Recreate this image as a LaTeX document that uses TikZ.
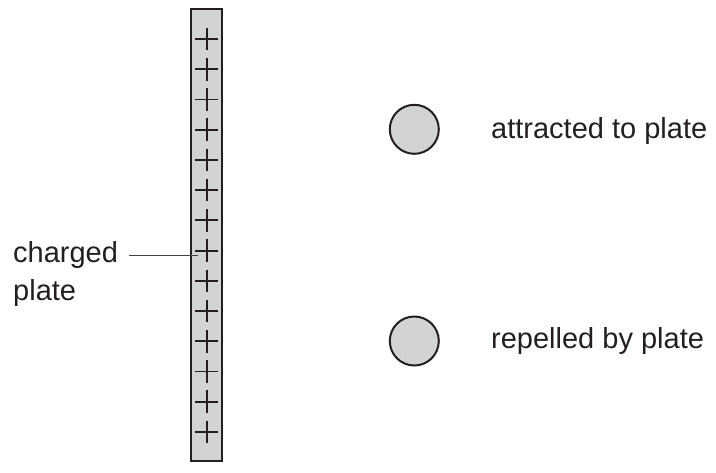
\documentclass[tikz,border=0pt]{standalone}
\usepackage{fontspec}
\setmainfont{Liberation Sans}
\definecolor{ink}{HTML}{231F20}
\definecolor{fillgray}{HTML}{D1D3D4}
\begin{document}
\begin{tikzpicture}[x=1pt,y=-1pt,
  lbl/.style={anchor=base west,inner sep=0pt,text=ink,font=\fontsize{29}{35}\selectfont},
  ball/.style={circle,draw=ink,line width=2pt,fill=fillgray,minimum size=49pt,inner sep=0pt},
  platestyle/.style={rectangle,draw=ink,line width=2pt,fill=fillgray,inner sep=0pt,minimum width=31pt,minimum height=452pt},
  plussign/.style={draw=ink,line width=1.9pt},
  leader/.style={draw=ink!85,line width=1pt}]
\useasboundingbox (0,0) rectangle (716,472);
\node[platestyle] (platebox) at (206.8,235.3) {};
\foreach \i in {0,...,13} {
  \pgfmathsetmacro{\yy}{39+30.23*\i}
  \draw[plussign] (195.4,\yy) -- (218.2,\yy);
  \draw[plussign] (206.8,\yy-11.3) -- (206.8,\yy+11.3);
}
\node[lbl] (charged) at (13,262.3) {charged};
\node[lbl] (platelbl) at (13,300) {plate};
\coordinate (leadstart) at (129,255.5);
\coordinate (leadend) at (198,255.5);
\draw[leader] (leadstart) -- (leadend);
\node[ball] (ballA) at (414.3,129.3) {};
\node[ball] (ballB) at (414.3,341) {};
\node[lbl] (attr) at (491,138.3) {attracted to plate};
\node[lbl] (rep) at (491,348.3) {repelled by plate};
\end{tikzpicture}
\end{document}
